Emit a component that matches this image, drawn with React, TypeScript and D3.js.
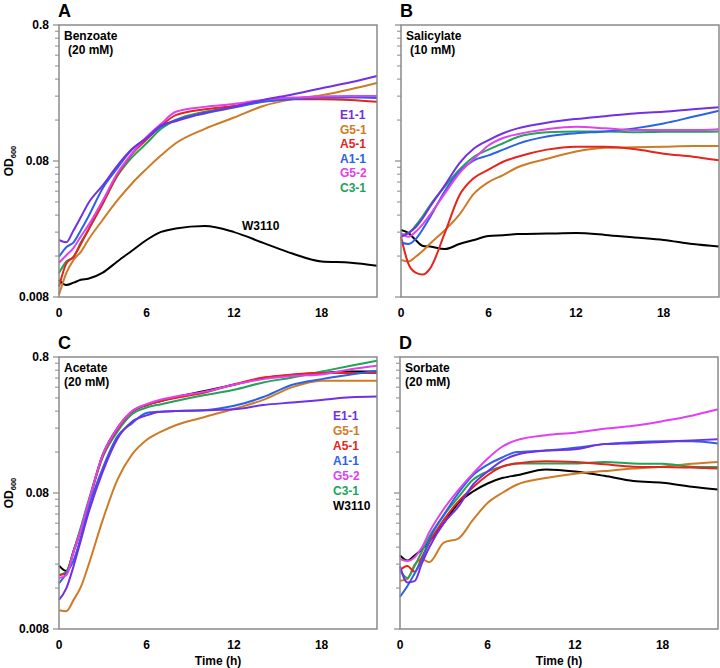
import React, { FC, useEffect, useRef } from "react"
import { select, scaleLinear, scaleLog, line, curveMonotoneX } from "d3"

// time points (h) shared by every curve
const hours = [0, 0.5, 1, 1.5, 2, 3, 4, 5, 6, 7, 8, 10, 12, 14, 16, 18, 20, 21.8]

const strains = ["E1-1", "G5-1", "A5-1", "A1-1", "G5-2", "C3-1", "W3110"]
const strainColors = ["#7030e6", "#cf7b26", "#e8221c", "#2b63e6", "#e040f0", "#20a458", "#000000"]

const xTicks = [0, 6, 12, 18]
const yMajorTicks = [0.008, 0.08, 0.8]
const yTickLabels = ["0.008", "0.08", "0.8"]

// OD600, one row per strain in the order of `strains`
const benzoateOD = [
  [0.021, 0.0202, 0.0248, 0.031, 0.039, 0.053, 0.074, 0.098, 0.118, 0.146, 0.157, 0.181, 0.2, 0.225, 0.247, 0.274, 0.303, 0.337],
  [0.0083, 0.012, 0.015, 0.0172, 0.021, 0.0296, 0.041, 0.0547, 0.07, 0.088, 0.108, 0.138, 0.167, 0.203, 0.228, 0.244, 0.27, 0.3],
  [0.0095, 0.0141, 0.0158, 0.0196, 0.0248, 0.039, 0.063, 0.09, 0.115, 0.145, 0.174, 0.192, 0.203, 0.22, 0.228, 0.228, 0.225, 0.218],
  [0.0158, 0.0186, 0.0202, 0.0248, 0.031, 0.0505, 0.071, 0.097, 0.118, 0.143, 0.16, 0.179, 0.198, 0.218, 0.228, 0.234, 0.235, 0.232],
  [0.0143, 0.0162, 0.0184, 0.0223, 0.0268, 0.041, 0.065, 0.091, 0.12, 0.15, 0.184, 0.2, 0.21, 0.225, 0.234, 0.238, 0.24, 0.24],
  [0.012, 0.0146, 0.0158, 0.0202, 0.0248, 0.039, 0.062, 0.085, 0.108, 0.138, 0.16, 0.184, 0.2, 0.22, 0.23, 0.234, 0.235, 0.238],
  [0.0107, 0.0098, 0.0102, 0.0107, 0.0109, 0.0121, 0.0146, 0.0175, 0.021, 0.0241, 0.0255, 0.0266, 0.024, 0.02, 0.0167, 0.0146, 0.0143, 0.0136],
]

const salicylateOD = [
  [0.0222, 0.0236, 0.026, 0.0305, 0.037, 0.053, 0.077, 0.099, 0.114, 0.128, 0.139, 0.153, 0.163, 0.171, 0.179, 0.184, 0.192, 0.199],
  [0.015, 0.0146, 0.0158, 0.0175, 0.0198, 0.0248, 0.0323, 0.046, 0.056, 0.063, 0.072, 0.083, 0.094, 0.1, 0.101, 0.102, 0.103, 0.103],
  [0.0222, 0.0141, 0.0121, 0.0117, 0.013, 0.0236, 0.0446, 0.06, 0.069, 0.079, 0.086, 0.097, 0.102, 0.102, 0.098, 0.0906, 0.086, 0.081],
  [0.0202, 0.0196, 0.0213, 0.0253, 0.031, 0.048, 0.067, 0.081, 0.088, 0.097, 0.107, 0.121, 0.128, 0.132, 0.139, 0.151, 0.169, 0.187],
  [0.0236, 0.0222, 0.0241, 0.0275, 0.0323, 0.046, 0.065, 0.083, 0.104, 0.118, 0.126, 0.137, 0.143, 0.139, 0.135, 0.135, 0.135, 0.137],
  [0.0229, 0.0236, 0.0268, 0.0315, 0.038, 0.0518, 0.069, 0.086, 0.097, 0.108, 0.12, 0.13, 0.132, 0.132, 0.13, 0.131, 0.131, 0.132],
  [0.0249, 0.0237, 0.021, 0.019, 0.0188, 0.018, 0.0196, 0.021, 0.0225, 0.0228, 0.0232, 0.0234, 0.0236, 0.0229, 0.0219, 0.021, 0.0196, 0.0188],
]

const acetateOD = [
  [0.0131, 0.0159, 0.0232, 0.036, 0.056, 0.115, 0.2, 0.267, 0.298, 0.317, 0.32, 0.325, 0.33, 0.355, 0.37, 0.387, 0.405, 0.41],
  [0.011, 0.0108, 0.0131, 0.0163, 0.0232, 0.0507, 0.1, 0.153, 0.196, 0.226, 0.252, 0.29, 0.333, 0.387, 0.48, 0.536, 0.536, 0.536],
  [0.0199, 0.0205, 0.0295, 0.0425, 0.0655, 0.15, 0.235, 0.317, 0.355, 0.38, 0.4, 0.438, 0.505, 0.565, 0.595, 0.61, 0.61, 0.61],
  [0.0173, 0.0205, 0.0256, 0.038, 0.061, 0.122, 0.208, 0.26, 0.31, 0.317, 0.32, 0.325, 0.35, 0.406, 0.5, 0.55, 0.595, 0.635],
  [0.019, 0.0199, 0.0295, 0.043, 0.067, 0.153, 0.24, 0.32, 0.36, 0.39, 0.41, 0.445, 0.5, 0.55, 0.58, 0.595, 0.65, 0.69],
  [0.02, 0.021, 0.03, 0.045, 0.069, 0.147, 0.226, 0.304, 0.34, 0.36, 0.38, 0.42, 0.46, 0.52, 0.565, 0.625, 0.69, 0.75],
  [0.0234, 0.0214, 0.03, 0.0437, 0.067, 0.153, 0.24, 0.317, 0.355, 0.38, 0.405, 0.45, 0.5, 0.56, 0.59, 0.61, 0.625, 0.625],
]

const sorbateOD = [
  [0.0232, 0.0176, 0.018, 0.0243, 0.0318, 0.048, 0.0635, 0.092, 0.115, 0.138, 0.153, 0.164, 0.168, 0.183, 0.186, 0.19, 0.195, 0.199],
  [0.0181, 0.0186, 0.0238, 0.0261, 0.0248, 0.0345, 0.037, 0.0507, 0.0675, 0.08, 0.092, 0.103, 0.111, 0.116, 0.121, 0.125, 0.131, 0.135],
  [0.0216, 0.0232, 0.0211, 0.027, 0.0345, 0.0507, 0.0693, 0.088, 0.108, 0.125, 0.132, 0.137, 0.135, 0.13, 0.125, 0.124, 0.123, 0.121],
  [0.0138, 0.0165, 0.0205, 0.0256, 0.036, 0.055, 0.08, 0.108, 0.129, 0.146, 0.16, 0.164, 0.172, 0.183, 0.189, 0.192, 0.192, 0.185],
  [0.0261, 0.0253, 0.027, 0.0318, 0.041, 0.061, 0.084, 0.111, 0.143, 0.175, 0.196, 0.213, 0.222, 0.237, 0.25, 0.27, 0.296, 0.33],
  [0.0216, 0.019, 0.0232, 0.0297, 0.038, 0.055, 0.0745, 0.1, 0.115, 0.125, 0.132, 0.132, 0.132, 0.135, 0.132, 0.131, 0.125, 0.124],
  [0.0278, 0.0255, 0.0278, 0.0307, 0.0352, 0.048, 0.0675, 0.082, 0.094, 0.103, 0.108, 0.119, 0.115, 0.107, 0.098, 0.095, 0.089, 0.085],
]

type Panel = {
  letter: string
  title: string
  conc: string
  concDx: number
  series: number[][]
  left: number
  top: number
  yLabels: boolean
  timeLabel: boolean
  legend: "strains" | "all" | "none"
}

const panels: Panel[] = [
  { letter: "A", title: "Benzoate", conc: "(20 mM)", concDx: 4, series: benzoateOD, left: 59, top: 25, yLabels: true, timeLabel: false, legend: "strains" },
  { letter: "B", title: "Salicylate", conc: "(10 mM)", concDx: 4, series: salicylateOD, left: 401, top: 25, yLabels: false, timeLabel: false, legend: "none" },
  { letter: "C", title: "Acetate", conc: "(20 mM)", concDx: 0, series: acetateOD, left: 59, top: 357, yLabels: true, timeLabel: true, legend: "all" },
  { letter: "D", title: "Sorbate", conc: "(20 mM)", concDx: 0, series: sorbateOD, left: 400, top: 357, yLabels: false, timeLabel: true, legend: "none" },
]

const drawOrder = [6, 1, 5, 2, 3, 4, 0]

const App: FC = () => {
  const svgRef = useRef<SVGSVGElement>(null)

  useEffect(() => {
    const svg = select(svgRef.current)
    svg.selectAll("*").remove()

    const width = 318
    const height = 272
    const font = "'Liberation Sans', Arial, sans-serif"
    const frameColor = "#8a8a8a"

    panels.forEach((p) => {
      const g = svg.append("g")
      const x = scaleLinear().domain([0, 21.8]).range([p.left, p.left + width])
      const y = scaleLog().domain([0.008, 0.8]).range([p.top + height, p.top])

      // minor + major y ticks
      const minor: number[] = []
      ;[0.008, 0.08].forEach((base) => {
        for (let k = 2; k <= 9; k++) minor.push(base * k)
      })
      g.selectAll(".minor")
        .data(minor)
        .join("line")
        .attr("x1", p.left - 4)
        .attr("x2", p.left)
        .attr("y1", (d) => y(d))
        .attr("y2", (d) => y(d))
        .attr("stroke", frameColor)
        .attr("stroke-width", 1)
      g.selectAll(".major")
        .data(yMajorTicks)
        .join("line")
        .attr("x1", p.left - 6)
        .attr("x2", p.left)
        .attr("y1", (d) => y(d))
        .attr("y2", (d) => y(d))
        .attr("stroke", frameColor)
        .attr("stroke-width", 1.2)

      // curves
      const path = line<number>()
        .x((_, i) => x(hours[i]))
        .y((d) => y(d))
        .curve(curveMonotoneX)
      drawOrder.forEach((si) => {
        g.append("path")
          .attr("d", path(p.series[si]))
          .attr("fill", "none")
          .attr("stroke", strainColors[si])
          .attr("stroke-width", 2)
          .attr("stroke-linejoin", "round")
      })

      // frame
      g.append("rect")
        .attr("x", p.left)
        .attr("y", p.top)
        .attr("width", width)
        .attr("height", height)
        .attr("fill", "none")
        .attr("stroke", frameColor)
        .attr("stroke-width", 1.5)

      const text = (tx: number, ty: number, s: string, size = 12, anchor = "start", fill = "#000") =>
        g.append("text")
          .attr("x", tx)
          .attr("y", ty)
          .attr("font-family", font)
          .attr("font-weight", "bold")
          .attr("font-size", size)
          .attr("text-anchor", anchor)
          .attr("fill", fill)
          .text(s)

      // x tick labels
      xTicks.forEach((t) => text(x(t), p.top + height + 20, String(t), 12, "middle"))

      if (p.yLabels) {
        yMajorTicks.forEach((v, i) => text(p.left - 10, y(v) + 4, yTickLabels[i], 12, "end"))
        const od = g.append("text")
          .attr("transform", `translate(13, ${p.top + height / 2}) rotate(-90)`)
          .attr("font-family", font)
          .attr("font-weight", "bold")
          .attr("font-size", 12)
          .attr("text-anchor", "middle")
        od.append("tspan").text("OD")
        od.append("tspan").attr("font-size", 7.5).attr("dy", 3).text("600")
      }

      if (p.timeLabel) text(p.left + width / 2, p.top + height + 36, "Time (h)", 12, "middle")

      text(p.left - 1, p.top - 8, p.letter, 18)
      text(p.left + 5, p.top + 15, p.title)
      text(p.left + 5 + p.concDx, p.top + 29, p.conc)

      if (p.legend === "strains") {
        strains.slice(0, 6).forEach((s, i) => text(p.left + 281, p.top + 94 + i * 14.6, s, 12, "start", strainColors[i]))
        text(p.left + 183, p.top + 205, "W3110")
      } else if (p.legend === "all") {
        strains.forEach((s, i) => text(p.left + 274, p.top + 63 + i * 15, s, 12, "start", strainColors[i]))
      }
    })
  }, [])

  return (
    <svg
      ref={svgRef}
      width={720}
      height={668}
      style={{ position: "absolute", left: 0, top: 0, background: "#fff" }}
    />
  )
}

export default App
